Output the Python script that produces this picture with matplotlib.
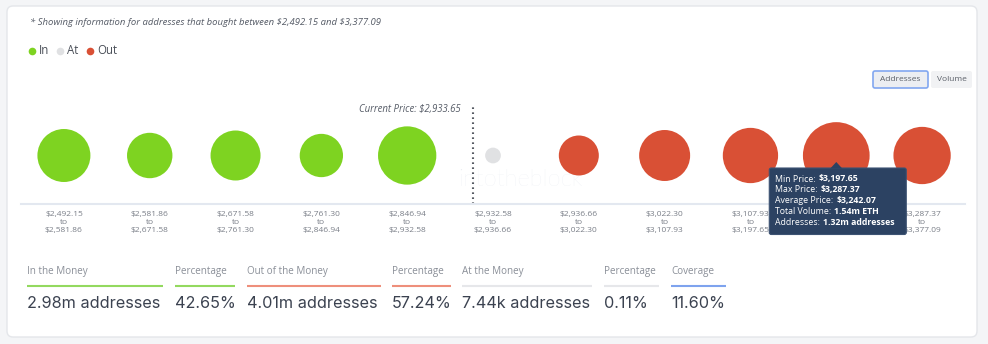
import matplotlib
matplotlib.use("Agg")
import matplotlib.pyplot as plt
from matplotlib.patches import FancyBboxPatch, Polygon
import numpy as np

plt.rcParams["text.parse_math"] = False

# ---------------- data ----------------
range_lo = [2492.15, 2581.86, 2671.58, 2761.30, 2846.94, 2932.58,
            2936.66, 3022.30, 3107.93, 3197.65, 3287.37]
range_hi = [2581.86, 2671.58, 2761.30, 2846.94, 2932.58, 2936.66,
            3022.30, 3107.93, 3197.65, 3287.37, 3377.09]
addresses_m = [0.745, 0.497, 0.641, 0.437, 0.948, 0.00744,
               0.351, 0.675, 0.830, 1.32, 0.908]
status = ["In", "In", "In", "In", "In", "At", "Out", "Out", "Out", "Out", "Out"]
current_price = 2933.65
price_min, price_max = 2492.15, 3377.09

summary_labels = ["In the Money", "Percentage", "Out of the Money", "Percentage",
                  "At the Money", "Percentage", "Coverage"]
summary_values = ["2.98m addresses", "42.65%", "4.01m addresses", "57.24%",
                  "7.44k addresses", "0.11%", "11.60%"]

tooltip_index = 9
tooltip_avg_price = 3242.07
tooltip_volume = "1.54m ETH"
tooltip_addresses = "1.32m addresses"

# ---------------- style ----------------
colors = {"In": "#7ed321", "At": "#e0e1e3", "Out": "#d95035"}
summary_line_colors = ["#93d95f", "#93d95f", "#ee8f7b", "#ee8f7b",
                       "#e6e7ea", "#e6e7ea", "#7ea3ee"]
summary_x = [27, 175, 247, 392, 462, 604, 671]
summary_w = [136, 60, 134, 59, 130, 55, 55]
FONT = ["Open Sans", "DejaVu Sans"]
VFONT = ["Inter", "DejaVu Sans"]

W, H = 988, 344
fig = plt.figure(figsize=(W / 100, H / 100), dpi=100)
fig.patch.set_facecolor("#f4f5f7")

ov = fig.add_axes([0, 0, 1, 1], zorder=0)
ov.set_xlim(0, W)
ov.set_ylim(H, 0)
ov.axis("off")

# card
ov.add_patch(FancyBboxPatch((7, 6), 970, 331,
                            boxstyle="round,pad=0,rounding_size=6",
                            fc="white", ec="#e4e6ea", lw=1.0))

ov.text(30, 22.5,
        f"* Showing information for addresses that bought between ${price_min:,.2f} and ${price_max:,.2f}",
        fontsize=6.8, style="italic", color="#555b66", va="center", ha="left",
        family=FONT)

# legend
lx = [32, 60, 90]
for x, key in zip(lx, ["In", "At", "Out"]):
    ov.plot(x, 51, "o", ms=5.5, color=colors[key], mec="none")
    ov.text(x + 7, 51, key, fontsize=8.3, color="#4a4f58", va="center", ha="left",
            family=FONT)

# buttons
ov.add_patch(FancyBboxPatch((873, 71), 55, 17, boxstyle="round,pad=0,rounding_size=2",
                            fc="#eceef2", ec="#82a7f0", lw=1.2))
ov.text(900.5, 79.5, "Addresses", fontsize=6.0, color="#5a5f68", ha="center",
        va="center", family=FONT)
ov.add_patch(FancyBboxPatch((931, 71), 41, 17, boxstyle="round,pad=0,rounding_size=2",
                            fc="#f1f2f4", ec="none"))
ov.text(951.5, 79.5, "Volume", fontsize=6.0, color="#5a5f68", ha="center",
        va="center", family=FONT)

# watermark
ov.text(520, 179, "intotheblock", fontsize=17, color="#e9ecf2", ha="center",
        va="center", family=["Lato", "DejaVu Sans"], fontweight="light", zorder=1)

# ---------------- bubble axes ----------------
ax = fig.add_axes([21 / W, (H - 204) / H, 944 / W, 100 / H], zorder=1)
ax.patch.set_alpha(0)
ax.set_xlim(-0.5, len(range_lo) - 0.5)
ax.set_ylim(-48.5, 51.5)
for s in ["top", "right", "left"]:
    ax.spines[s].set_visible(False)
ax.spines["bottom"].set_color("#e3e8f0")
ax.spines["bottom"].set_linewidth(1.5)
ax.set_yticks([])

xs = np.arange(len(range_lo))
vmax = max(addresses_m)
r_px = 5.8 + 27.55 * np.sqrt(np.array(addresses_m) / vmax)
sizes = (2 * r_px * 0.72) ** 2
ax.scatter(xs, np.zeros_like(xs, dtype=float), s=sizes,
           c=[colors[k] for k in status], edgecolors="none", zorder=3)

labels = [f"${lo:,.2f}\nto\n${hi:,.2f}" for lo, hi in zip(range_lo, range_hi)]
ax.set_xticks(xs)
ax.set_xticklabels(labels, fontsize=6.0, color="#7a7f88", family=FONT,
                   linespacing=1.2)
ax.tick_params(axis="x", length=0, pad=5)

# current price marker
i_cur = next(i for i in range(len(range_lo)) if range_lo[i] <= current_price <= range_hi[i])
x_cur = i_cur - 0.5 + (current_price - range_lo[i_cur]) / (range_hi[i_cur] - range_lo[i_cur])
ax.plot([x_cur, x_cur], [-48.5, 51.5], color="#555a62", lw=1.5,
        linestyle=(0, (0.8, 1.6)), zorder=2, clip_on=False)
ax.text(x_cur - 0.14, 46, f"Current Price: ${current_price:,.2f}", fontsize=6.9,
        style="italic", color="#555b66", ha="right", va="center", family=FONT)

# ---------------- tooltip (top layer) ----------------
top = fig.add_axes([0, 0, 1, 1], zorder=5)
top.set_xlim(0, W)
top.set_ylim(H, 0)
top.axis("off")

fig.canvas.draw()
renderer = fig.canvas.get_renderer()
tx, ty = ax.transData.transform((tooltip_index, 0))
tip_x = tx
tip_y = H - ty + 6.5
bx0, by0, bw, bh = tip_x - 67, tip_y + 6, 137, 66.5
top.add_patch(FancyBboxPatch((bx0, by0), bw, bh, boxstyle="round,pad=0,rounding_size=2",
                             fc="#2c4262", ec="#3d5373", lw=0.8, zorder=10))
top.add_patch(Polygon([[tip_x - 6, by0 + 0.5], [tip_x, tip_y], [tip_x + 6, by0 + 0.5]],
                      closed=True, fc="#2c4262", ec="none", zorder=11))
tt_lines = [("Min Price:", f"${range_lo[tooltip_index]:,.2f}"),
            ("Max Price:", f"${range_hi[tooltip_index]:,.2f}"),
            ("Average Price:", f"${tooltip_avg_price:,.2f}"),
            ("Total Volume:", tooltip_volume),
            ("Addresses:", tooltip_addresses)]
for j, (lab, val) in enumerate(tt_lines):
    yy = by0 + 11 + j * 10.8
    t = top.text(bx0 + 6, yy, lab, fontsize=6.3, color="white", ha="left",
                 va="center", family=FONT, zorder=12)
    bb = t.get_window_extent(renderer=renderer)
    top.text(bx0 + 6 + bb.width + 3, yy, val, fontsize=6.3, color="white",
             fontweight="bold", ha="left", va="center", family=FONT, zorder=12)

# ---------------- summary row ----------------
for x, w, lab, val, lc in zip(summary_x, summary_w, summary_labels,
                              summary_values, summary_line_colors):
    ov.text(x, 271.5, lab, fontsize=7.1, color="#8a8f98", ha="left", va="center",
            family=FONT)
    ov.plot([x, x + w], [286, 286], color=lc, lw=1.5, solid_capstyle="butt")
    ov.text(x, 303, val, fontsize=11.7, color="#3b4250", ha="left", va="center",
            family=VFONT)

fig.savefig("out.png", dpi=100, facecolor=fig.get_facecolor())
